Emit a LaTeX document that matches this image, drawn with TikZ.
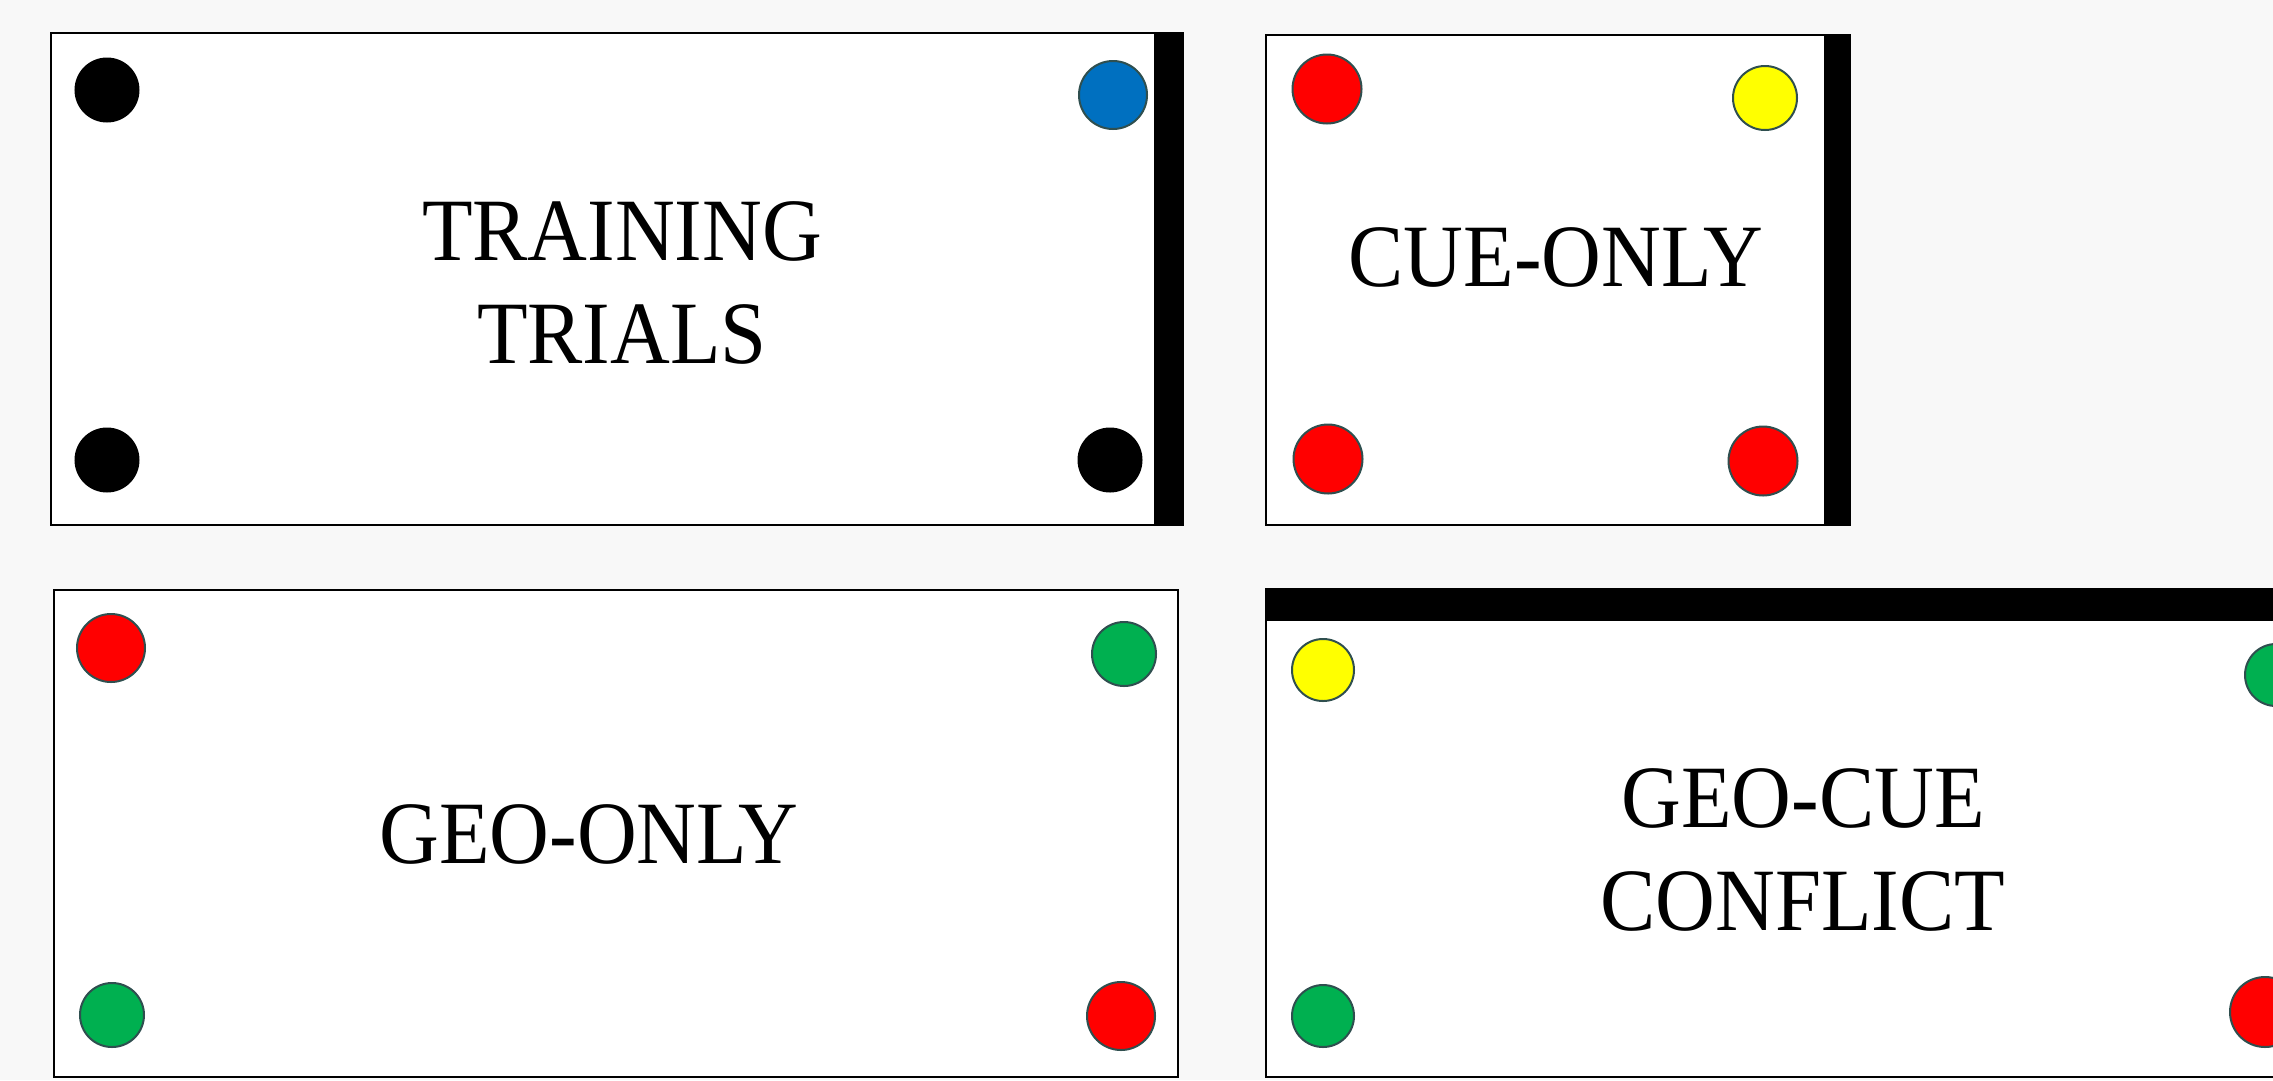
\documentclass[tikz,border=0pt]{standalone}
\usepackage{fontspec}
\newfontfamily\lblfont[FakeStretch=0.93]{Liberation Serif}
\definecolor{bgc}{HTML}{F8F8F8}
\definecolor{cblue}{HTML}{0070C0}
\definecolor{cred}{HTML}{FF0000}
\definecolor{cyel}{HTML}{FFFF00}
\definecolor{cgreen}{HTML}{00B050}
\definecolor{rimc}{HTML}{2F4F4F}
\begin{document}
\begin{tikzpicture}[x=1pt,y=-1pt,
  arena/.style={draw=black,fill=white,line width=2.5pt},
  wallbar/.style={fill=black},
  dot/.style={circle,draw=rimc,line width=2pt,inner sep=0pt,minimum size=66pt},
  blackdot/.style={dot,draw=black,fill=black,minimum size=63pt},
  lbl/.style={align=center,inner sep=0pt,font=\lblfont\fontsize{89}{103}\selectfont}]
\fill[bgc] (0,0) rectangle (2273,1080);
\useasboundingbox (0,0) rectangle (2273,1080);
\clip (0,0) rectangle (2273,1080);
% Box 1: training trials
\draw[arena] (51,33) rectangle (1183,525);
\fill[wallbar] (1154,32) rectangle (1184,526);
\node[blackdot] (t1) at (107,90) {};
\node[dot,fill=cblue,minimum size=68pt] (t2) at (1113,95) {};
\node[blackdot] (t3) at (107,460) {};
\node[blackdot] (t4) at (1110,460) {};
\node[lbl] (tl) at (622,283) {TRAINING\\TRIALS};
% Box 2: cue-only
\draw[arena] (1266,35) rectangle (1850,525);
\fill[wallbar] (1824,34) rectangle (1851,526);
\node[dot,fill=cred,minimum size=69pt] (c1) at (1327,89) {};
\node[dot,fill=cyel,minimum size=64pt] (c2) at (1765,98) {};
\node[dot,fill=cred,minimum size=69pt] (c3) at (1328,459) {};
\node[dot,fill=cred,minimum size=69pt] (c4) at (1763,461) {};
\node[lbl] (cl) at (1556,257) {CUE-ONLY};
% Box 3: geo-only
\draw[arena] (54,590) rectangle (1178,1077);
\node[dot,fill=cred,minimum size=68pt] (g1) at (111,648) {};
\node[dot,fill=cgreen,minimum size=64pt] (g2) at (1124,654) {};
\node[dot,fill=cgreen,minimum size=64pt] (g3) at (112,1015) {};
\node[dot,fill=cred,minimum size=68pt] (g4) at (1121,1016) {};
\node[lbl] (gl) at (589,834) {GEO-ONLY};
% Box 4: geo-cue conflict
\draw[arena] (1266,589) rectangle (2300,1077);
\fill[wallbar] (1265,588) rectangle (2300,621);
\node[dot,fill=cyel,minimum size=62pt] (k1) at (1323,670) {};
\node[dot,fill=cgreen,minimum size=62pt] (k2) at (2276,675) {};
\node[dot,fill=cgreen,minimum size=62pt] (k3) at (1323,1016) {};
\node[dot,fill=cred,minimum size=70pt] (k4) at (2265,1012) {};
\node[lbl] (kl) at (1803,850) {GEO-CUE\\CONFLICT};
\end{tikzpicture}
\end{document}
